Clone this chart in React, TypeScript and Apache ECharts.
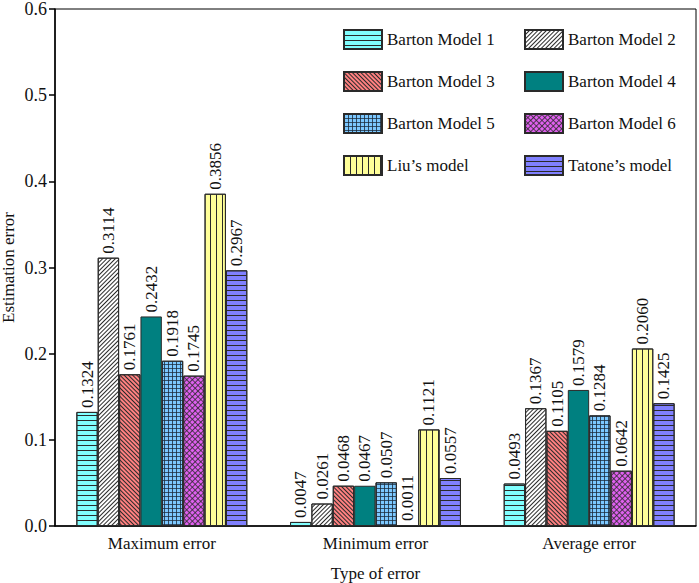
import React, { useEffect, useRef } from "react";
import * as echarts from "echarts";

const categories = ["Maximum error", "Minimum error", "Average error"];
const seriesNames = [
  "Barton Model 1",
  "Barton Model 2",
  "Barton Model 3",
  "Barton Model 4",
  "Barton Model 5",
  "Barton Model 6",
  "Liu\u2019s model",
  "Tatone\u2019s model",
];
const barton1 = [0.1324, 0.0047, 0.0493];
const barton2 = [0.3114, 0.0261, 0.1367];
const barton3 = [0.1761, 0.0468, 0.1105];
const barton4 = [0.2432, 0.0467, 0.1579];
const barton5 = [0.1918, 0.0507, 0.1284];
const barton6 = [0.1745, 0.0011, 0.0642];
const liu = [0.3856, 0.1121, 0.206];
const tatone = [0.2967, 0.0557, 0.1425];
const seriesValues = [barton1, barton2, barton3, barton4, barton5, barton6, liu, tatone];
const yTicks = [0, 0.1, 0.2, 0.3, 0.4, 0.5, 0.6];

const FONT = "'Liberation Serif', 'Times New Roman', serif";
const LINE = "#2a2a2a";
const GRID_SYMBOL = "path://M0,0H5V1H1V5H0Z";

const colors = ["#80ffff", "#ffffff", "#ff8080", "#008080", "#7cc8ff", "#e060f0", "#ffff99", "#8080ff"];
const decals: any[] = [
  { symbol: "rect", dashArrayX: [1, 0], dashArrayY: [1, 4], color: LINE, rotation: 0 },
  { symbol: "rect", dashArrayX: [1, 0], dashArrayY: [1, 2], color: LINE, rotation: -Math.PI / 4 },
  { symbol: "rect", dashArrayX: [1, 0], dashArrayY: [1, 2], color: LINE, rotation: Math.PI / 4 },
  null,
  { symbol: GRID_SYMBOL, symbolSize: 1, dashArrayX: [4, 0], dashArrayY: [4, 0], color: "#1a2a3a", rotation: 0 },
  { symbol: GRID_SYMBOL, symbolSize: 1, dashArrayX: [4, 0], dashArrayY: [4, 0], color: LINE, rotation: Math.PI / 4 },
  { symbol: "rect", dashArrayX: [1, 5], dashArrayY: [1, 0], color: LINE, rotation: 0 },
  { symbol: "rect", dashArrayX: [1, 0], dashArrayY: [1, 4], color: LINE, rotation: 0 },
];

export default function App() {
  const ref = useRef<HTMLDivElement>(null);
  useEffect(() => {
    const chart = echarts.init(ref.current!, null, { renderer: "svg" });
    const series = seriesNames.map((name, i) => {
      const itemStyle: any = { color: colors[i], borderColor: LINE, borderWidth: 1 };
      if (decals[i]) itemStyle.decal = decals[i];
      return {
        name,
        type: "bar",
        data: seriesValues[i],
        barGap: "0%",
        barCategoryGap: "20%",
        itemStyle,
        label: {
          show: true,
          position: "top",
          rotate: 90,
          align: "left",
          verticalAlign: "middle",
          distance: 4,
          fontFamily: FONT,
          fontSize: 17,
          color: "#111",
          formatter: (p: any) => Number(p.value).toFixed(4),
        },
      };
    });
    const legendCommon = {
      orient: "vertical",
      itemWidth: 38,
      itemHeight: 19,
      itemGap: 21,
      icon: "rect",
      textStyle: { fontFamily: FONT, fontSize: 17, color: "#111", lineHeight: 19 },
      selectedMode: false,
    };
    chart.setOption({
      animation: false,
      backgroundColor: "#fff",
      grid: {
        left: 55,
        right: 3,
        top: 9,
        bottom: 57,
        outerBoundsMode: "none",
        containLabel: false,
        show: true,
        borderColor: "#000",
        borderWidth: 1,
        backgroundColor: "transparent",
      },
      legend: [
        { ...legendCommon, left: 338, top: 24, data: [seriesNames[0], seriesNames[2], seriesNames[4], seriesNames[6]] },
        { ...legendCommon, left: 519, top: 24, data: [seriesNames[1], seriesNames[3], seriesNames[5], seriesNames[7]] },
      ],
      xAxis: {
        type: "category",
        data: categories,
        name: "Type of error",
        nameLocation: "middle",
        nameGap: 39,
        nameMoveOverlap: false,
        nameTextStyle: { fontFamily: FONT, fontSize: 17, color: "#111" },
        axisLine: { lineStyle: { color: "#000", width: 1.5 } },
        axisTick: { alignWithLabel: true, length: 6, lineStyle: { color: "#000", width: 1.5 } },
        axisLabel: { fontFamily: FONT, fontSize: 17, color: "#111", margin: 9 },
      },
      yAxis: {
        type: "value",
        min: yTicks[0],
        max: yTicks[yTicks.length - 1],
        interval: 0.1,
        name: "Estimation error",
        nameLocation: "middle",
        nameGap: 38,
        nameMoveOverlap: false,
        nameTextStyle: { fontFamily: FONT, fontSize: 17, color: "#111" },
        splitLine: { show: false },
        axisLine: { show: true, lineStyle: { color: "#000", width: 1.5 } },
        axisTick: { show: true, length: 6, lineStyle: { color: "#000", width: 1.5 } },
        axisLabel: {
          fontFamily: FONT,
          fontSize: 18,
          color: "#111",
          margin: 8,
          formatter: (v: number) => v.toFixed(1),
        },
      },
      series,
    });
    return () => chart.dispose();
  }, []);
  return <div ref={ref} style={{ width: 699, height: 583, position: "absolute", left: 0, top: 0 }} />;
}
